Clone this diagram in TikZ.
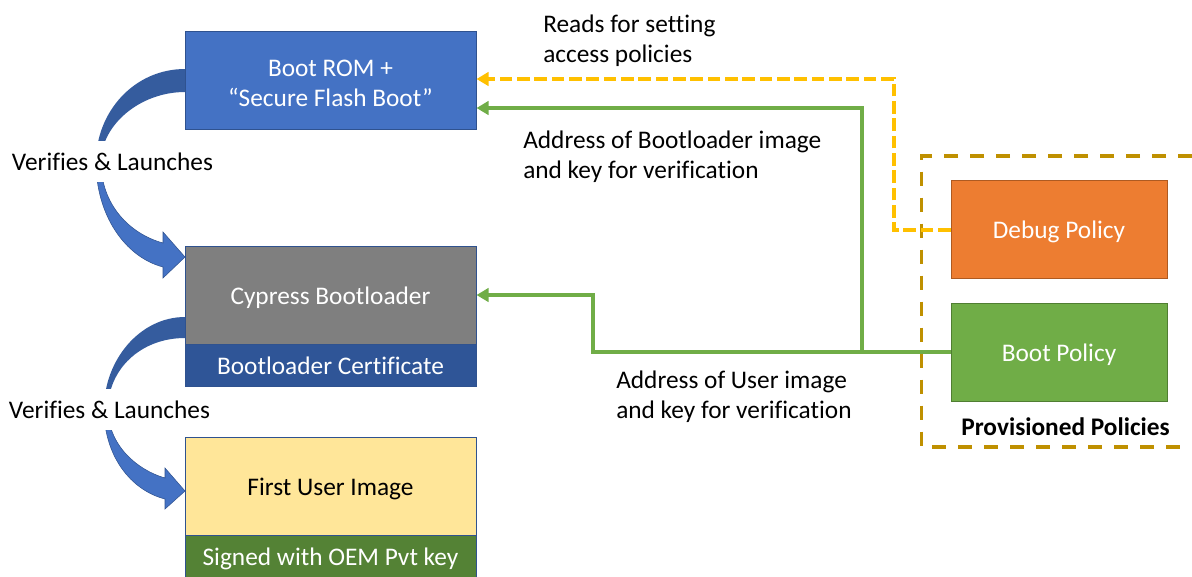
\documentclass[tikz,border=0pt]{standalone}
\usepackage{fontspec}
\setmainfont[Ligatures=NoCommon]{Carlito}
\usetikzlibrary{arrows.meta,calc}
\definecolor{romblue}{HTML}{4472C4}
\definecolor{edgeblue}{HTML}{2F528F}
\definecolor{darkarc}{HTML}{355C9E}
\definecolor{certblue}{HTML}{2F5597}
\definecolor{greybox}{HTML}{7F7F7F}
\definecolor{yellowbox}{HTML}{FFE699}
\definecolor{oemgreen}{HTML}{548235}
\definecolor{orangebox}{HTML}{ED7D31}
\definecolor{orangeedge}{HTML}{AE5A21}
\definecolor{greenbox}{HTML}{70AD47}
\definecolor{greenedge}{HTML}{507E32}
\definecolor{dashgold}{HTML}{BF9000}
\definecolor{dashyellow}{HTML}{FFC000}
\newcommand{\topstrut}{\rule{0pt}{18pt}}
\newcommand{\botstrut}{\rule[-4.5pt]{0pt}{4.5pt}}
\tikzset{
  x=0.75pt, y=-0.75pt,
  txt/.style={font=\fontsize{19}{22.5}\selectfont},
  struts/.style={execute at begin node=\topstrut, execute at end node=\botstrut},
  box/.style={txt, struts, draw=#1, line width=0.75pt, inner sep=0pt, text=white, align=center},
  mainbox/.style={box=#1, minimum width=218.25pt, minimum height=73.5pt},
  stripbox/.style={box=#1, minimum width=218.25pt, minimum height=31.5pt},
  policybox/.style={box=#1, minimum width=162pt, minimum height=73.5pt},
  note/.style={txt, struts, align=left, anchor=north west, inner sep=0pt, text=black},
  gaplabel/.style={txt, fill=white, inner sep=0pt, minimum width=160pt, minimum height=30.75pt, text=black},
  greenline/.style={draw=greenbox, line width=3pt},
  yellowline/.style={draw=dashyellow, line width=3pt, dash pattern=on 9.5pt off 3.5pt},
  tiphead/.style={-{Triangle[length=9pt,width=10pt]}},
  arcdark/.style={fill=darkarc},
  arclight/.style={fill=romblue, draw=edgeblue, line width=0.4pt},
}
\begin{document}
\begin{tikzpicture}
\clip (0,0) rectangle (1192,576);
\path[fill=white] (0,0) rectangle (1192,576);

% curved arrows
\path[arcdark] (185,69) .. controls (134,69) and (96,112) .. (96,162) -- (101,162)
  .. controls (101,125) and (140,92) .. (185,92) -- cycle;
\path[arclight] (96,162) .. controls (96,215) and (125,257) .. (163,267)
  -- (163,278) -- (185,257) -- (163,232) -- (163,243)
  .. controls (130,234) and (101,205) .. (101,162) -- cycle;
\path[arcdark] (185,317) .. controls (140,317) and (104,360) .. (104,409) -- (108,409)
  .. controls (108,370) and (140,338) .. (185,338) -- cycle;
\path[arclight] (104,409) .. controls (104,455) and (130,490) .. (165,499)
  -- (165,509) -- (185,491) -- (165,468) -- (165,478)
  .. controls (137,470) and (108,445) .. (108,409) -- cycle;

\node[gaplabel] (verify1) at (112.5,161.5) {Verifies \& Launches};
\node[gaplabel] (verify2) at (109.5,409.5) {Verifies \& Launches};

% boxes
\node[mainbox=edgeblue, fill=romblue] (rom) at (330.5,80) {\rule{0pt}{21pt}Boot ROM +\\“Secure Flash Boot”};
\node[mainbox=edgeblue, fill=greybox] (cypress) at (330.5,295) {Cypress Bootloader};
\node[stripbox=edgeblue, fill=certblue] (cert) at (330.5,365) {Bootloader Certificate};
\node[mainbox=edgeblue, fill=yellowbox, text=black] (first) at (330.5,486) {First User Image};
\node[stripbox=edgeblue, fill=oemgreen] (signed) at (330.5,556) {Signed with OEM Pvt key};
\node[policybox=orangeedge, fill=orangebox] (debug) at (1059,229) {Debug Policy};
\node[policybox=greenedge, fill=greenbox] (bootp) at (1059,352) {Boot Policy};

% provisioned policies frame
\draw[dashgold, line width=2.4pt, dash pattern=on 10.5pt off 9pt]
  (1192,156) -- (921.5,156) -- (921.5,447) -- (1192,447);
\node[txt, font=\fontsize{19}{22.5}\selectfont\bfseries, inner sep=0pt] (prov) at (1065.5,427) {Provisioned Policies};

% connectors
\coordinate (romdebug) at (rom.east |- 0,79);
\coordinate (romboot) at (rom.east |- 0,108);
\coordinate (debugout) at (debug.west |- 0,230);
\draw[yellowline, tiphead] (debugout) -- (893.5,230) -- (893.5,79) -- (romdebug);
\draw[greenline, tiphead] (bootp.west) -- (593,352) -- (593,295) -- (cypress.east);
\draw[greenline, tiphead] (862,352) -- (862,108) -- (romboot);

% notes
\node[note] (n1) at (543,15) {Reads for setting\\access policies};
\node[note] (n2) at (523,131) {Address of Bootloader image\\and key for verification};
\node[note] (n3) at (616,371) {Address of User image\\and key for verification};
\end{tikzpicture}
\end{document}
